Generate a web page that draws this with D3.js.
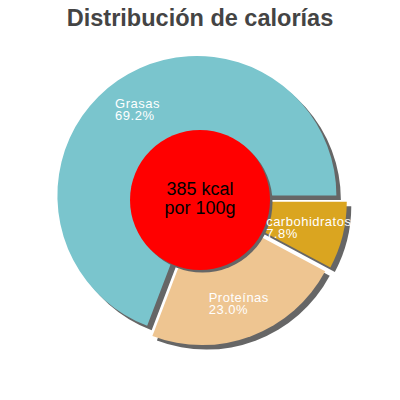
<!DOCTYPE html>
<html>
<head>
<meta charset="utf-8">
<script src="https://cdn.jsdelivr.net/npm/d3@7"></script>
<style>
  body { margin: 0; background: #fff; }
  text { font-family: 'Liberation Sans', Arial, sans-serif; }
</style>
</head>
<body>
<svg id="chart" width="400" height="400"></svg>
<script>
var title = 'Distribución de calorías';
var categories = ['carbohidratos', 'Proteínas', 'Grasas'];
var percents = [7.8, 23.0, 69.2];
var colors = ['#daa520', '#eec591', '#7ac5cd'];
var centerLines = ['385 kcal', 'por 100g'];

var cx = 200, cy = 200;
var radius = 139.5;
var hole = 70;
var explode = [7.5, 6, 5.5];
var shadowOffset = 4.5;

var svg = d3.select('#chart');

svg.append('text')
  .attr('x', 200)
  .attr('y', 25.5)
  .attr('text-anchor', 'middle')
  .style('font-size', '23.5px')
  .style('font-weight', 'bold')
  .style('fill', '#444')
  .text(title);

var data = categories.map(function(c, i) {
  return { name: c, value: percents[i], color: colors[i], explode: explode[i] };
});

var pie = d3.pie()
  .sort(null)
  .value(function(d) { return d.value; })
  .startAngle(Math.PI / 2)
  .endAngle(Math.PI / 2 + 2 * Math.PI);

var arc = d3.arc().innerRadius(0).outerRadius(radius);
var arcs = pie(data);

function offset(a) {
  var mid = (a.startAngle + a.endAngle) / 2;
  return [Math.sin(mid) * a.data.explode, -Math.cos(mid) * a.data.explode];
}

var g = svg.append('g').attr('transform', 'translate(' + cx + ',' + cy + ')');

// shadows first, then slices
g.selectAll('path.shadow')
  .data(arcs)
  .enter()
  .append('path')
  .attr('class', 'shadow')
  .attr('d', arc)
  .attr('transform', function(a) {
    var o = offset(a);
    return 'translate(' + (o[0] + shadowOffset) + ',' + (o[1] + shadowOffset) + ')';
  })
  .style('fill', '#666');

g.selectAll('path.slice')
  .data(arcs)
  .enter()
  .append('path')
  .attr('class', 'slice')
  .attr('d', arc)
  .attr('transform', function(a) {
    var o = offset(a);
    return 'translate(' + o[0] + ',' + o[1] + ')';
  })
  .style('fill', function(a) { return a.data.color; });

// center disc
g.append('circle')
  .attr('cx', 2.5)
  .attr('cy', 2.5)
  .attr('r', hole)
  .style('fill', '#666');

g.append('circle')
  .attr('r', hole)
  .style('fill', '#ff0000');

g.append('text')
  .attr('text-anchor', 'middle')
  .style('font-size', '18px')
  .style('fill', '#000')
  .selectAll('tspan')
  .data(centerLines)
  .enter()
  .append('tspan')
  .attr('x', 0)
  .attr('y', function(d, i) { return -5 + i * 18.5; })
  .text(function(d) { return d; });

// slice labels
var labelRadius = radius * 0.75;
var labels = g.selectAll('text.label')
  .data(arcs)
  .enter()
  .append('text')
  .attr('class', 'label')
  .style('font-size', '13px')
  .style('letter-spacing', '0.5px')
  .style('fill', '#fff');

labels.append('tspan').attr('x', 0).attr('y', 0).text(function(a) { return a.data.name; });
labels.append('tspan').attr('x', 0).attr('y', 12).text(function(a) { return d3.format('.1f')(a.data.value) + '%'; });

labels.attr('transform', function(a) {
  var mid = (a.startAngle + a.endAngle) / 2;
  var o = offset(a);
  var w = this.getBBox().width;
  var x = Math.sin(mid) * labelRadius + o[0] - w / 2;
  var y = -Math.cos(mid) * labelRadius + o[1] - 1.5;
  return 'translate(' + x + ',' + y + ')';
});
</script>
</body>
</html>
